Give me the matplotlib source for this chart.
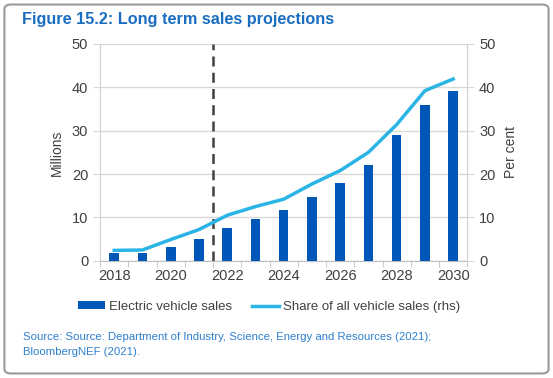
import matplotlib.pyplot as plt
from matplotlib.patches import FancyBboxPatch, Patch
from matplotlib.lines import Line2D

years = [2018, 2019, 2020, 2021, 2022, 2023, 2024, 2025, 2026, 2027, 2028, 2029, 2030]
ev_sales = [1.9, 1.9, 3.2, 5.1, 7.6, 9.7, 11.6, 14.8, 18.0, 22.0, 29.0, 36.0, 39.1]
share = [2.4, 2.5, 4.9, 7.2, 10.5, 12.5, 14.2, 17.7, 20.8, 25.0, 31.4, 39.2, 41.9]
tick_labels = ['2018', '', '2020', '', '2022', '', '2024', '', '2026', '', '2028', '', '2030']

bar_col = '#0057B8'
line_col = '#2BB4E6'
txt_col = '#404040'

plt.rcParams['font.family'] = ['Liberation Sans', 'DejaVu Sans']

fig = plt.figure(figsize=(5.53, 3.78), dpi=100)

# outer rounded frame
frame = FancyBboxPatch((0.008, 0.012), 0.984, 0.976, boxstyle='round,pad=0,rounding_size=0.012',
                       transform=fig.transFigure, facecolor='white', edgecolor='#9a9a9a',
                       linewidth=1.5, zorder=-10)
fig.patches.append(frame)

ax = fig.add_axes([0.181, 0.310, 0.664, 0.574])
x = list(range(len(years)))
ax.bar(x, ev_sales, width=0.34, color=bar_col, zorder=3)
ax.set_xlim(-0.5, len(years) - 0.5)
ax.set_ylim(0, 50)
ax.set_yticks(range(0, 51, 10))
ax.grid(axis='y', color='#d9d9d9', linewidth=1, zorder=0)
ax.set_xticks(x)
ax.set_xticklabels(tick_labels)
ax.set_xticks([i - 0.5 for i in range(len(years) + 1)], minor=True)
ax.tick_params(axis='x', which='major', length=0, pad=6, labelsize=10.5, labelcolor=txt_col)
ax.tick_params(axis='x', which='minor', length=4, color='#bfbfbf')
ax.tick_params(axis='y', length=5, color='#d9d9d9', labelsize=10.5, labelcolor=txt_col)
for s in ['top', 'right']:
    ax.spines[s].set_visible(False)
ax.spines['left'].set_color('#d0d0d0')
ax.spines['bottom'].set_color('#bfbfbf')
ax.set_ylabel('Millions', color=txt_col, fontsize=10, labelpad=6)

# dashed line between actuals and projections
ax.axvline(3.5, color='#404040', linestyle=(0, (4, 2.5)), linewidth=1.8, zorder=4)

ax2 = ax.twinx()
ax2.plot(x, share, color=line_col, linewidth=2.5, zorder=5)
ax2.set_ylim(0, 50)
ax2.set_yticks(range(0, 51, 10))
ax2.tick_params(axis='y', length=5, color='#d9d9d9', labelsize=10.5, labelcolor=txt_col)
for s in ['top', 'left', 'bottom']:
    ax2.spines[s].set_visible(False)
ax2.spines['right'].set_color('#d0d0d0')
ax2.set_ylabel('Per cent', color=txt_col, fontsize=10, labelpad=6)

fig.text(0.04, 0.948, 'Figure 15.2: Long term sales projections', color='#1A6DC0',
         fontsize=11.7, fontweight='bold', va='center')

handles = [Patch(facecolor=bar_col, edgecolor='none'),
           Line2D([0], [0], color=line_col, linewidth=2.5)]
fig.legend(handles, ['Electric vehicle sales', 'Share of all vehicle sales (rhs)'],
           loc='center', bbox_to_anchor=(0.486, 0.188), ncol=2, frameon=False,
           fontsize=9.5, handlelength=2.1, handleheight=0.5, columnspacing=1.5,
           handletextpad=0.25, labelcolor=txt_col)

fig.text(0.042, 0.108, 'Source: Source: Department of Industry, Science, Energy and Resources (2021);',
         color='#2F7FCF', fontsize=8.2, va='center')
fig.text(0.042, 0.068, 'BloombergNEF (2021).', color='#2F7FCF', fontsize=8.2, va='center')

fig.savefig('out.png', dpi=100)
